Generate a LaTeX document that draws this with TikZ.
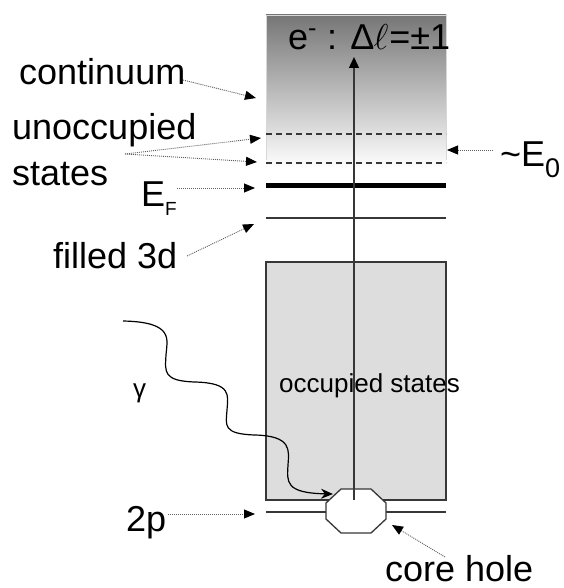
\RequirePackage{fix-cm}
\documentclass[tikz,border=0pt]{standalone}
\usepackage{fontspec}
\setmainfont{Liberation Sans}
\usetikzlibrary{arrows.meta}
\definecolor{gradtop}{RGB}{118,118,118}
\definecolor{gradedge}{RGB}{215,215,215}
\definecolor{occfill}{RGB}{221,221,221}
\definecolor{edgec}{RGB}{55,55,55}
\definecolor{dotc}{RGB}{95,95,95}
\begin{document}
\begin{tikzpicture}[x=1pt,y=-1pt,
  lbl/.style={inner sep=0pt, anchor=base west, font=\fontsize{36}{40}\selectfont},
  smalllbl/.style={inner sep=0pt, anchor=base west, font=\fontsize{26}{30}\selectfont},
  ptr/.style={draw=dotc, line width=0.9pt, dash pattern=on 1pt off 1pt,
    -{Triangle[length=11pt,width=9pt,color=black]}},
  level/.style={draw=edgec, line width=1.3pt},
  dashlevel/.style={draw=edgec, line width=1.2pt, dash pattern=on 6pt off 4pt}]
\useasboundingbox (0,0) rectangle (563,588);
% continuum gradient
\shade[top color=gradtop, bottom color=white] (266,15) rectangle (446,168);
\draw[gradedge, line width=0.8pt] (266,160) -- (266,15) -- (446,15) -- (446,160);
% levels
\draw[dashlevel] (266,134) -- (446,134);
\draw[dashlevel] (266,163) -- (446,163);
\draw[black, line width=5pt] (266,185) -- (446,185);
\draw[level] (266,218) -- (446,218);
% occupied states box
\draw[draw=edgec, fill=occfill, line width=1.3pt] (266,262) rectangle (446,500);
\node[smalllbl] (occ) at (279,392) {occupied states};
% 2p level and core hole
\draw[level] (266,512) -- (446,512);
\draw[draw=edgec, fill=white, line width=1.3pt]
  (341,489) -- (371,489) -- (386,503) -- (386,519) -- (371,533) -- (341,533) -- (326,519) -- (326,503) -- cycle;
\coordinate (hole) at (354,500);
% excitation arrow
\coordinate (top) at (354,57);
\draw[draw=edgec, line width=1.3pt, -{Triangle[length=11pt,width=10pt,color=black]}] (hole) -- (top);
\node[lbl] (trans) at (288,50) {e\textsuperscript{-} : Δ\kern-1pt$\ell$\kern1pt=±1};
% photon
\node[smalllbl] (gam) at (133,397) {γ};
\coordinate (ph0) at (123,321);
\coordinate (ph1) at (333,494);
\draw[black, line width=1.2pt, -{Stealth[length=12pt,width=10pt]}]
  (ph0) .. controls (175,322) and (167,340) .. (166,355)
  .. controls (165,372) and (163,381) .. (195,382)
  .. controls (232,383) and (228,395) .. (227,410)
  .. controls (226,425) and (222,434) .. (255,435)
  .. controls (292,436) and (289,450) .. (288,465)
  .. controls (287,482) and (285,493) .. (ph1);
% labels
\node[lbl] (cont) at (19,85) {continuum};
\node[lbl] (unocc) at (12,140) {unoccupied};
\node[lbl] (states) at (12,185) {states};
\node[lbl] (ef) at (141,206) {E\raisebox{-9pt}{\fontsize{19}{20}\selectfont F}};
\node[lbl] (f3d) at (53,268) {filled 3d};
\node[lbl] (e0) at (500,167) {\textasciitilde E\raisebox{-10pt}{\fontsize{27}{28}\selectfont 0}};
\node[lbl] (twop) at (126,531) {2p};
\node[lbl] (ch) at (385,581) {core hole};
% pointer coordinates
\coordinate (c0) at (183,80);  \coordinate (c1) at (256,98);
\coordinate (u0) at (125,154); \coordinate (u1) at (261,138); \coordinate (u2) at (257,162);
\coordinate (f0) at (177,188); \coordinate (f1) at (255,188);
\coordinate (d0) at (187,256); \coordinate (d1) at (254,224);
\coordinate (z0) at (493,150); \coordinate (z1) at (447,150);
\coordinate (p0) at (168,514); \coordinate (p1) at (255,514);
\coordinate (h0) at (445,557); \coordinate (h1) at (392,525);
\draw[ptr] (c0) -- (c1);
\draw[ptr] (u0) -- (u1);
\draw[ptr] (u0) -- (u2);
\draw[ptr] (f0) -- (f1);
\draw[ptr] (d0) -- (d1);
\draw[ptr] (z0) -- (z1);
\draw[ptr] (p0) -- (p1);
\draw[ptr] (h0) -- (h1);
\end{tikzpicture}
\end{document}
